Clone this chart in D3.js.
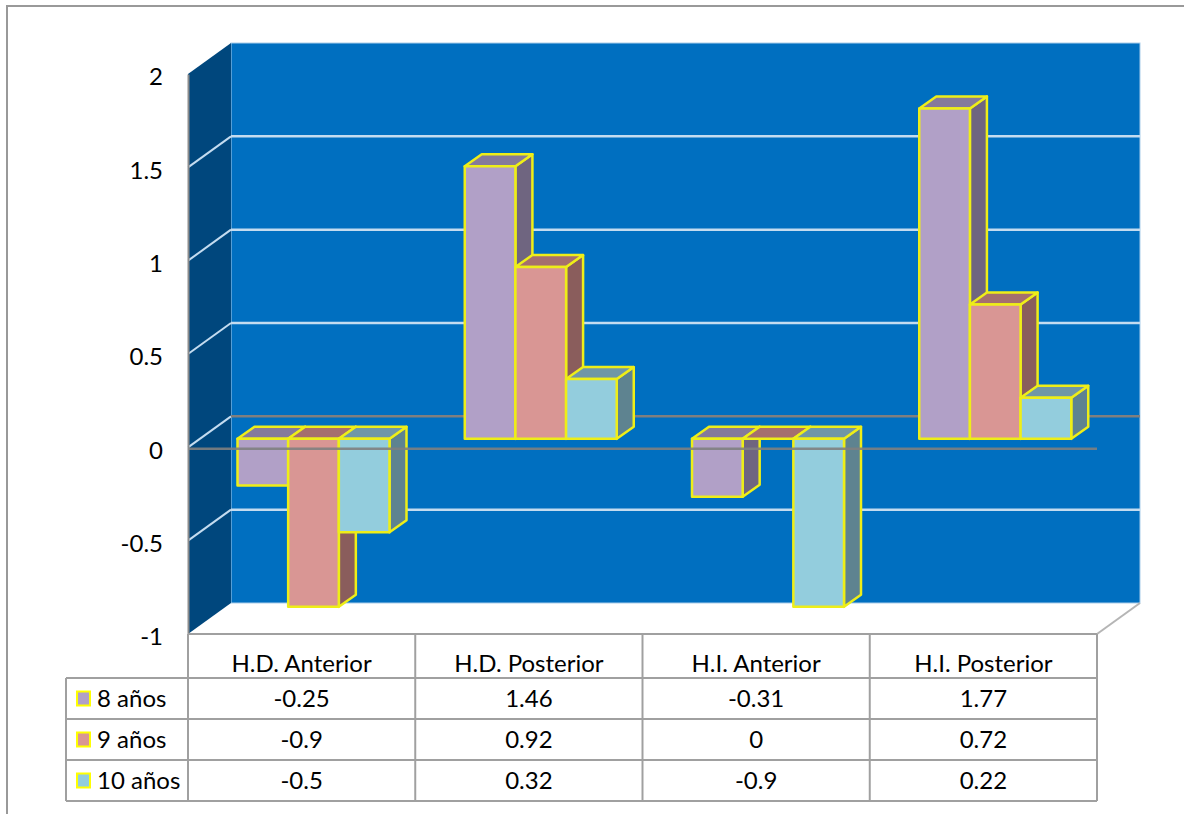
<!DOCTYPE html>
<html>
<head>
<meta charset="utf-8">
<script src="https://cdn.jsdelivr.net/npm/d3@7/dist/d3.min.js"></script>
<style>
  html, body { margin: 0; padding: 0; background: #fff; }
  svg { display: block; }
  text { font-family: Lato, "Open Sans", sans-serif; fill: #000; }
</style>
</head>
<body>
<svg id="chart" width="1184" height="814"></svg>
<script>
const categories = ["H.D. Anterior", "H.D. Posterior", "H.I. Anterior", "H.I. Posterior"];
const seriesNames = ["8 años", "9 años", "10 años"];
const values8 = [-0.25, 1.46, -0.31, 1.77];
const values9 = [-0.9, 0.92, 0, 0.72];
const values10 = [-0.5, 0.32, -0.9, 0.22];
const yTicks = [2, 1.5, 1, 0.5, 0, -0.5, -1];
const frontColors = ["#b1a0c7", "#d99694", "#93cddd"];
const sideColors = ["#6f6580", "#8a5d5c", "#5e8390"];
const topColors = ["#857a9b", "#a56f6e", "#7097a6"];

const seriesValues = [values8, values9, values10];
const svg = d3.select("#chart");

// Box geometry: front plane of the plot and the depth shift to the back wall
const frontLeft = 188, frontRight = 1097, frontTop = 74, frontBottom = 634;
const depthX = 43, depthY = -31;
const barDepthX = 17, barDepthY = -12;
const barPlaneY = -8.5;
const fontSize = 24;

const yFront = d3.scaleLinear().domain([-1, 2]).range([frontBottom, frontTop]);
const yBar = v => yFront(v) + barPlaneY;
const xBand = d3.scaleBand().domain(categories).range([frontLeft, frontRight]);
const xGroup = d3.scaleBand().domain(d3.range(3)).range([49.5, 49.5 + 152]);

const pts = a => a.map(p => p.join(",")).join(" ");

// Outer frame
svg.append("path")
  .attr("d", "M7,814V6H1184")
  .attr("fill", "none").attr("stroke", "#999").attr("stroke-width", 2);

// Back wall
svg.append("rect")
  .attr("x", frontLeft + depthX).attr("y", frontTop + depthY)
  .attr("width", frontRight - frontLeft).attr("height", frontBottom - frontTop)
  .attr("fill", "#006fc0").attr("stroke", "#a9cdea").attr("stroke-width", 1);

// Left wall
svg.append("polygon")
  .attr("points", pts([
    [frontLeft, frontTop], [frontLeft + depthX, frontTop + depthY],
    [frontLeft + depthX, frontBottom + depthY], [frontLeft, frontBottom]
  ]))
  .attr("fill", "#00477d");

// Floor edge on the right side
svg.append("line")
  .attr("x1", frontRight).attr("y1", frontBottom)
  .attr("x2", frontRight + depthX).attr("y2", frontBottom + depthY)
  .attr("stroke", "#b5b5b5").attr("stroke-width", 2);

// Gridlines: a light diagonal across the left wall, then along the back wall
yTicks.filter(v => v !== 2 && v !== -1).forEach(v => {
  const y = yFront(v);
  svg.append("line")
    .attr("x1", frontLeft).attr("y1", y)
    .attr("x2", frontLeft + depthX).attr("y2", y + depthY)
    .attr("stroke", "#c4dcf0").attr("stroke-width", 2);
  svg.append("line")
    .attr("x1", frontLeft + depthX).attr("y1", y + depthY)
    .attr("x2", frontRight + depthX).attr("y2", y + depthY)
    .attr("stroke", v === 0 ? "#7f7f7f" : "#c4dcf0").attr("stroke-width", 2.5);
});

// Bars, painted left to right so each one covers its neighbour's side face
categories.forEach((cat, c) => {
  seriesValues.forEach((vals, s) => {
    const v = vals[c];
    const x0 = xBand(cat) + xGroup(s);
    const x1 = x0 + xGroup.bandwidth();
    const yTop = Math.min(yBar(0), yBar(v));
    const yLow = Math.max(yBar(0), yBar(v));
    const g = svg.append("g")
      .attr("stroke", "#eeee18").attr("stroke-width", 2.5).attr("stroke-linejoin", "round");
    g.append("polygon")
      .attr("points", pts([
        [x1, yTop], [x1 + barDepthX, yTop + barDepthY],
        [x1 + barDepthX, yLow + barDepthY], [x1, yLow]
      ]))
      .attr("fill", sideColors[s]);
    g.append("polygon")
      .attr("points", pts([
        [x0, yTop], [x1, yTop],
        [x1 + barDepthX, yTop + barDepthY], [x0 + barDepthX, yTop + barDepthY]
      ]))
      .attr("fill", topColors[s]);
    g.append("rect")
      .attr("x", x0).attr("y", yTop)
      .attr("width", x1 - x0).attr("height", yLow - yTop)
      .attr("fill", frontColors[s]);
  });
});

// Front edge of the zero plane passes over the bars
svg.append("line")
  .attr("x1", frontLeft).attr("x2", frontRight)
  .attr("y1", yFront(0) + 1.5).attr("y2", yFront(0) + 1.5)
  .attr("stroke", "#7f7f7f").attr("stroke-width", 2.5).attr("stroke-opacity", 0.9);

// Value axis labels and axis line
const axis = d3.axisLeft(yFront).tickValues(yTicks).tickSize(0).tickPadding(25).tickFormat(d => String(d));
const axisG = svg.append("g").attr("transform", `translate(${frontLeft},0)`).call(axis);
axisG.select(".domain").attr("stroke", "#8c8c8c").attr("stroke-width", 2);
axisG.selectAll("text").attr("font-size", fontSize).attr("font-family", "Lato").attr("fill", "#000").attr("dy", "0.45em");

// Data table below the plot
const rowY = [634, 678, 719, 760, 801];
const colX = [...categories.map(c => xBand(c)), frontRight];
const tableLeft = 66;
const tableG = svg.append("g").attr("stroke", "#a0a0a0").attr("stroke-width", 2);
rowY.forEach((y, i) => {
  tableG.append("line")
    .attr("x1", i === 0 ? frontLeft : tableLeft).attr("x2", frontRight)
    .attr("y1", y).attr("y2", y);
});
colX.forEach(x => {
  tableG.append("line").attr("x1", x).attr("x2", x).attr("y1", rowY[0]).attr("y2", rowY[4]);
});
tableG.append("line")
  .attr("x1", tableLeft).attr("x2", tableLeft).attr("y1", rowY[1]).attr("y2", rowY[4]);

const midX = c => xBand(c) + xBand.bandwidth() / 2;
svg.append("g").selectAll("text").data(categories).join("text")
  .attr("x", midX).attr("y", rowY[1] - 6)
  .attr("text-anchor", "middle").attr("font-size", fontSize)
  .text(d => d);

seriesNames.forEach((name, s) => {
  const cy = (rowY[s + 1] + rowY[s + 2]) / 2;
  svg.append("rect")
    .attr("x", 77).attr("y", cy - 7).attr("width", 13).attr("height", 14)
    .attr("fill", frontColors[s]).attr("stroke", "#ffff00").attr("stroke-width", 2);
  svg.append("text")
    .attr("x", 97).attr("y", cy + 8).attr("font-size", fontSize).text(name);
  categories.forEach((cat, c) => {
    svg.append("text")
      .attr("x", midX(cat)).attr("y", cy + 8)
      .attr("text-anchor", "middle").attr("font-size", fontSize)
      .text(seriesValues[s][c]);
  });
});
</script>
</body>
</html>
